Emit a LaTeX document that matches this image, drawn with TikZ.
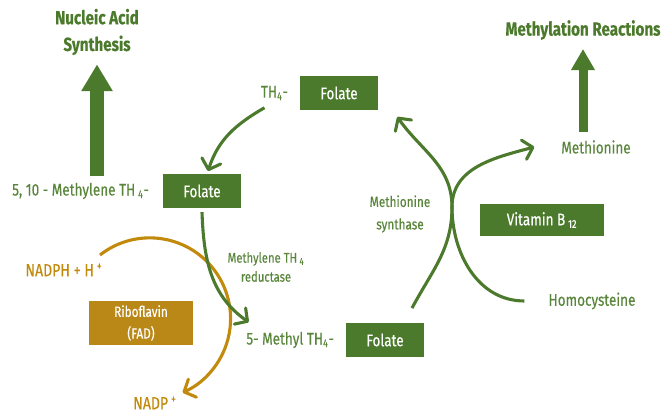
\documentclass[tikz,border=0pt]{standalone}
\usepackage{fontspec}
\setmainfont{Fira Sans}[FakeStretch=0.8,FakeBold=0.4]
\usepackage{tikz}
\usetikzlibrary{positioning,arrows.meta}
\definecolor{leaf}{RGB}{76,122,44}
\definecolor{leaftext}{RGB}{90,134,60}
\definecolor{amber}{RGB}{194,138,12}
\definecolor{amberbox}{RGB}{186,136,22}

\begin{document}
\begin{tikzpicture}[x=0.025cm,y=0.025cm,
      folatebox/.style={fill=leaf,text=white,font=\fontsize{12}{14}\selectfont,minimum width=1.95cm,minimum height=0.83cm},
      lbl/.style={text=leaftext,font=\fontsize{12}{14}\selectfont,inner sep=1pt},
      small/.style={text=leaftext,font=\fontsize{10.5}{16}\selectfont,align=center,inner sep=1pt},
      title/.style={text=leaf,font=\fontsize{13.5}{19}\selectfont\bfseries,align=center},
      orlbl/.style={text=amber,font=\fontsize{12.5}{14}\selectfont,inner sep=1pt},
      flow/.style={draw=leaf,line width=2.2pt,-{Straight Barb[length=6.5pt,width=14pt,round]}},
      bigup/.style={draw=leaf,-{Triangle[length=19pt,width=21pt]}},
      >=Stealth]
      \useasboundingbox (0,0) rectangle (671,412);
      \node[title] (nucleic) at (97,380) {Nucleic Acid\\Synthesis};
      \node[title] (methylation) at (583,382) {Methylation Reactions};
      \node[folatebox] (top) at (339,319) {Folate};
      \node[lbl, left=2.5mm of top] (th4) {TH\textsubscript{4}-};
      \node[folatebox] (mid) at (202,221) {Folate};
      \node[lbl, left=3mm of mid] (methylene) {5, 10 - Methylene TH\,\textsubscript{4}-};
      \node[folatebox] (low) at (385,72) {Folate};
      \node[lbl, left=2.5mm of low] (methyl) {5- Methyl TH\textsubscript{4}-};
      \node[folatebox, minimum width=3.1cm, minimum height=0.8cm] (b12) at (542,192) {Vitamin B\,\textsubscript{12}};
      \node[lbl] (methionine) at (596,265) {Methionine};
      \node[lbl] (homocys) at (592,111) {Homocysteine};
      \node[small] (synth) at (400,198) {Methionine\\synthase};
      \node[small, font=\fontsize{10}{13.5}\selectfont] (reduct) at (266,145) {Methylene TH\,\textsubscript{4}\\reductase};
      \node[folatebox, fill=amberbox, minimum width=2.58cm, minimum height=1.08cm, align=center, font=\fontsize{10.5}{15.5}\selectfont] (ribo) at (141,89) {Riboflavin\\(FAD)};
      \node[orlbl] (nadph) at (64,142) {NADPH + H\,\textsuperscript{+}};
      \node[orlbl] (nadp) at (155,9) {NADP\,\textsuperscript{+}};
      \coordinate (nadin) at (100,157);

      \draw[bigup, line width=10pt] ([yshift=4pt]methylene.north -| nucleic.south) -- ([yshift=-3pt]nucleic.south);
      \draw[bigup, line width=6.4pt, -{Triangle[length=15pt,width=16pt]}] ([yshift=5pt]methionine.north -| methylation.south) -- ([yshift=-3pt]methylation.south);

      \draw[draw=amber, line width=2.2pt, -{Straight Barb[length=6.5pt,width=14pt,round]}] (nadin) arc[start angle=128, end angle=-66, radius=2.02cm];
      \draw[flow] ([shift={(-10,-6)}]th4.south) to[out=210, in=72] ([shift={(6,3)}]mid.north);
      \draw[flow] ([yshift=-3pt]mid.south) to[out=-88, in=145] ([shift={(4,8)}]methyl.north west);
      \draw[flow] ([shift={(27,15)}]low.north) to[out=62, in=-90] (452,205) to[out=90, in=-55] ([shift={(19,-7)}]top.south east);
      \draw[flow] ([xshift=-16]homocys.west) to[out=180, in=-90] (452,205) to[out=90, in=195] ([xshift=-18]methionine.west);
    \end{tikzpicture}
\end{document}
